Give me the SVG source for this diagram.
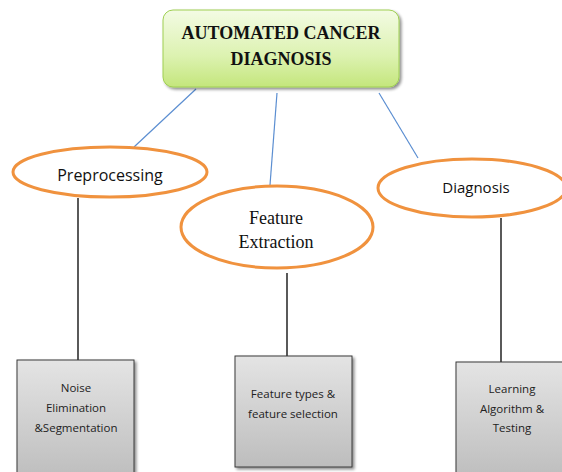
<svg xmlns="http://www.w3.org/2000/svg" width="562" height="472" viewBox="0 0 562 472">
  <defs>
    <linearGradient id="greenFill" x1="0" y1="0" x2="0" y2="1">
      <stop offset="0" stop-color="#f3fbe4"/>
      <stop offset="0.6" stop-color="#dcf2b0"/>
      <stop offset="1" stop-color="#c4e67c"/>
    </linearGradient>
    <linearGradient id="grayFill" x1="0" y1="0" x2="0" y2="1">
      <stop offset="0" stop-color="#e4e4e4"/>
      <stop offset="1" stop-color="#bdbdbd"/>
    </linearGradient>
    <filter id="shadow" x="-10%" y="-10%" width="130%" height="130%">
      <feGaussianBlur in="SourceAlpha" stdDeviation="1.5"/>
      <feOffset dx="2" dy="2" result="b"/>
      <feComponentTransfer><feFuncA type="linear" slope="0.45"/></feComponentTransfer>
      <feMerge><feMergeNode/><feMergeNode in="SourceGraphic"/></feMerge>
    </filter>
  </defs>
  <style>
    .blue { stroke: #5b8ed1; stroke-width: 1.2; fill: none; }
    .black { stroke: #000; stroke-width: 1.3; fill: none; }
    .oval { fill: #fff; stroke: #f0923e; stroke-width: 3; }
    .box { fill: url(#grayFill); stroke: #3a3a3a; stroke-width: 1; }
    .title { font-family: "Liberation Serif", serif; font-weight: bold; font-size: 18px; fill: #111; text-anchor: middle; }
    .sans { font-family: "Open Sans", "Noto Sans", sans-serif; fill: #111; text-anchor: middle; }
    .serif { font-family: "Liberation Serif", serif; fill: #111; text-anchor: middle; }
    .small { font-family: "Open Sans", "Noto Sans", sans-serif; font-size: 11.5px; fill: #222; text-anchor: middle; }
  </style>
  <rect width="562" height="472" fill="#fff"/>

  <g id="connectors">
    <line class="blue" x1="196" y1="89" x2="134" y2="147"/>
    <line class="blue" x1="277" y1="93" x2="270" y2="185"/>
    <line class="blue" x1="379" y1="93" x2="418" y2="158"/>
    <line class="black" x1="78" y1="198" x2="78" y2="360"/>
    <line class="black" x1="287" y1="273" x2="287" y2="356"/>
    <line class="black" x1="501" y1="218" x2="501" y2="362"/>
  </g>

  <g id="root">
    <rect x="163" y="10" width="236" height="77" rx="10" fill="url(#greenFill)" stroke="#9fcf52" stroke-width="1" filter="url(#shadow)"/>
    <text class="title" x="281" y="39">AUTOMATED CANCER</text>
    <text class="title" x="281" y="65">DIAGNOSIS</text>
  </g>

  <g id="preprocessing">
    <ellipse class="oval" cx="110" cy="172" rx="97" ry="25"/>
    <text class="sans" x="110" y="181" font-size="16">Preprocessing</text>
  </g>

  <g id="feature-extraction">
    <ellipse class="oval" cx="277" cy="227" rx="96" ry="41"/>
    <text class="serif" x="276" y="224" font-size="18">Feature</text>
    <text class="serif" x="276" y="248" font-size="18">Extraction</text>
  </g>

  <g id="diagnosis">
    <ellipse class="oval" cx="472" cy="188" rx="94" ry="29"/>
    <text class="sans" x="476" y="193" font-size="15">Diagnosis</text>
  </g>

  <g id="noise-elimination">
    <rect class="box" x="17" y="360" width="117" height="120" filter="url(#shadow)"/>
    <text class="small" x="76" y="392">Noise</text>
    <text class="small" x="76" y="412">Elimination</text>
    <text class="small" x="76" y="432">&amp;Segmentation</text>
  </g>

  <g id="feature-selection">
    <rect class="box" x="235" y="356" width="117" height="111" filter="url(#shadow)"/>
    <text class="small" x="293" y="398">Feature types &amp;</text>
    <text class="small" x="293" y="418">feature selection</text>
  </g>

  <g id="learning-testing">
    <rect class="box" x="456" y="362" width="117" height="118" filter="url(#shadow)"/>
    <text class="small" x="512" y="393">Learning</text>
    <text class="small" x="512" y="413">Algorithm &amp;</text>
    <text class="small" x="512" y="432">Testing</text>
  </g>
</svg>
